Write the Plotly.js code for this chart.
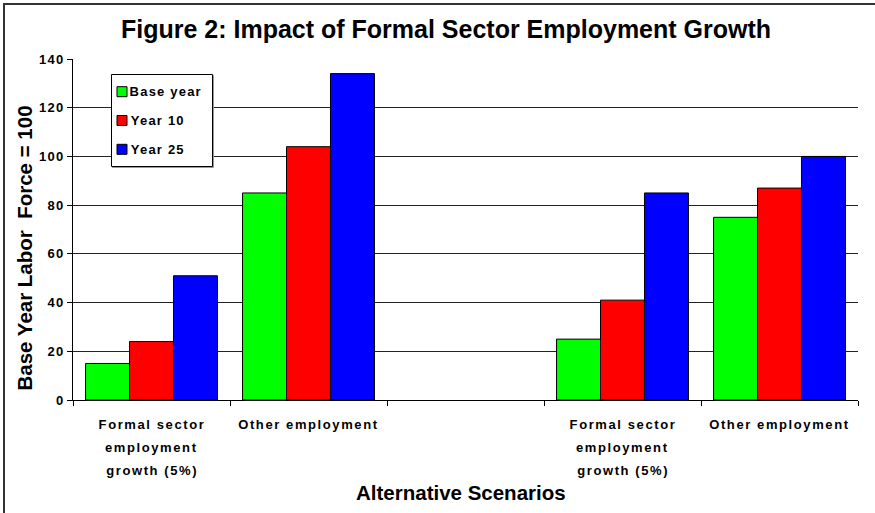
<!DOCTYPE html>
<html>
<head>
<meta charset="utf-8">
<script src="https://cdn.plot.ly/plotly-3.0.1.min.js"></script>
<style>
  html, body { margin: 0; padding: 0; background: #fff; }
  #wrap { position: relative; width: 875px; height: 513px; }
  #chart { width: 875px; height: 513px; }
  #frame { position: absolute; left: 3px; top: 3px; width: 872px; height: 510px;
           border-top: 2px solid #333; border-left: 2px solid #333; pointer-events: none; box-sizing: border-box; }
  .main-svg .ytick text { letter-spacing: 1.2px; }
</style>
</head>
<body>
<div id="wrap">
  <div id="chart"></div>
  <div id="frame"></div>
</div>
<script>
// ---- data ----
const categories = [
  "Formal sector<br>employment<br>growth (5%)",
  "Other employment",
  "",
  "Formal sector<br>employment<br>growth (5%)",
  "Other employment"
];
const seriesNames = ["Base year", "Year 10", "Year 25"];
const baseYear = [15, 85, null, 25, 75];
const year10   = [24, 104, null, 41, 87];
const year25   = [51, 134, null, 85, 100];
const yTicks = [0, 20, 40, 60, 80, 100, 120, 140];
const chartTitle = "Figure 2: Impact of Formal Sector Employment Growth";
const xTitle = "Alternative Scenarios";
const yTitle = "Base Year Labor  Force = 100";

// ---- styles / layout helpers ----
const colors = ["#00FF00", "#FF0000", "#0000FF"];
const FONT = "Liberation Sans, Arial, sans-serif";
const M = { l: 73, r: 17, t: 59, b: 113 };
const PW = 875 - M.l - M.r, PH = 513 - M.t - M.b;
const px2x = p => (p - M.l) / PW;
const py2y = p => (513 - M.b - p) / PH;

const xpos = categories.map((c, i) => i);
const values = [baseYear, year10, year25];

const traces = values.map((v, k) => ({
  type: "bar",
  name: seriesNames[k],
  x: xpos,
  y: v,
  marker: { color: colors[k], line: { color: "#000", width: 1 } },
  hoverinfo: "y+name",
  showlegend: false
}));

const annotations = [];
const spacing = [];
// category labels (one annotation per line)
categories.forEach((c, i) => {
  if (!c) return;
  c.split("<br>").forEach((line, j) => {
    annotations.push({
      text: line, x: i, xref: "x", y: 0, yref: "paper",
      yanchor: "middle", xanchor: "center", showarrow: false,
      yshift: -(24 + 23 * j),
      font: { family: FONT, size: 13, weight: "bold", color: "#000" }
    });
    spacing.push("1.6px");
  });
});
// axis titles
annotations.push({
  text: xTitle, x: px2x(461), xref: "paper", y: py2y(492), yref: "paper",
  xanchor: "center", yanchor: "middle", showarrow: false,
  font: { family: FONT, size: 20.5, weight: "bold", color: "#000" }
});
spacing.push("0px");
annotations.push({
  text: yTitle, x: px2x(24), xref: "paper", y: py2y(248.5), yref: "paper",
  xanchor: "center", yanchor: "middle", showarrow: false, textangle: -90,
  font: { family: FONT, size: 20.5, weight: "bold", color: "#000" }
});
spacing.push("0px");

// legend (box, swatches, labels)
const legY = [91.7, 120.5, 149.3];
const shapes = [];
shapes.push({ type: "rect", xref: "paper", yref: "paper", layer: "above",
  x0: px2x(112.5), x1: px2x(213.5), y0: py2y(75.5), y1: py2y(167.5),
  line: { color: "#999", width: 1 }, fillcolor: "#999" });
shapes.push({ type: "rect", xref: "paper", yref: "paper", layer: "above",
  x0: px2x(111.5), x1: px2x(212.5), y0: py2y(74.5), y1: py2y(166.5),
  line: { color: "#000", width: 1 }, fillcolor: "#fff" });
seriesNames.forEach((n, k) => {
  shapes.push({ type: "rect", xref: "paper", yref: "paper", layer: "above",
    x0: px2x(117), x1: px2x(127), y0: py2y(legY[k] - 5), y1: py2y(legY[k] + 5),
    line: { color: "#000", width: 1 }, fillcolor: colors[k] });
  annotations.push({
    text: n, x: px2x(133), xref: "paper", y: py2y(legY[k]), yref: "paper",
    xanchor: "left", yanchor: "middle", showarrow: false,
    font: { family: FONT, size: 13, weight: "bold", color: "#000" }
  });
  spacing.push("1.2px");
});

const boundaries = categories.map((c, i) => i - 0.5).concat([categories.length - 0.5]);

const layout = {
  width: 875, height: 513,
  margin: { l: M.l, r: M.r, t: M.t, b: M.b, pad: 0 },
  paper_bgcolor: "#fff", plot_bgcolor: "#fff",
  title: {
    text: chartTitle, x: 446 / 875, xref: "container", xanchor: "center",
    y: 30, yref: "container", yanchor: "middle",
    font: { family: FONT, size: 25, weight: "bold", color: "#000" }
  },
  font: { family: FONT, color: "#000" },
  barmode: "group", bargap: 0.16, bargroupgap: 0,
  showlegend: false,
  xaxis: {
    range: [-0.5, categories.length - 0.5],
    tickmode: "array", tickvals: boundaries, showticklabels: false,
    ticks: "outside", ticklen: 5, tickcolor: "#000", tickwidth: 1,
    showline: true, linecolor: "#000", linewidth: 1,
    showgrid: false, zeroline: false, fixedrange: true
  },
  yaxis: {
    range: [0, 140], tickmode: "array", tickvals: yTicks, ticktext: yTicks.map(String),
    ticks: "outside", ticklen: 5, tickcolor: "#000", tickwidth: 1,
    showline: true, linecolor: "#000", linewidth: 1,
    showgrid: true, gridcolor: "#222", gridwidth: 1, zeroline: false,
    tickfont: { family: FONT, size: 13, weight: "bold", color: "#000" },
    fixedrange: true
  },
  shapes: shapes,
  annotations: annotations
};

Plotly.newPlot("chart", traces, layout, { displayModeBar: false, staticPlot: true }).then(gd => {
  gd.querySelectorAll("g.annotation").forEach(g => {
    const idx = parseInt(g.getAttribute("data-index"), 10);
    const t = g.querySelector(".annotation-text");
    if (t && spacing[idx]) t.style.letterSpacing = spacing[idx];
  });
});
</script>
</body>
</html>
